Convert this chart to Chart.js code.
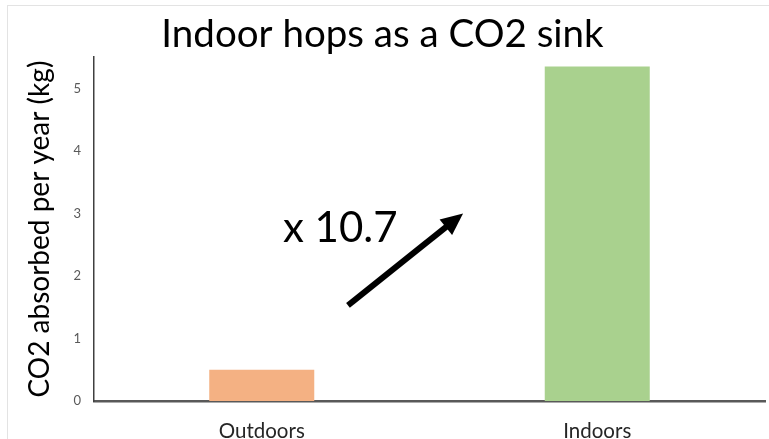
<!DOCTYPE html>
<html>
<head>
<meta charset="utf-8">
<script src="https://cdn.jsdelivr.net/npm/chart.js@4.4.1/dist/chart.umd.min.js"></script>
<style>
  html, body { margin: 0; padding: 0; background: #fff; }
  #wrap { position: relative; width: 769px; height: 439px; }
  #frame { position: absolute; left: 7px; top: 5px; right: -2px; bottom: -2px; border-top: 1px solid #e3e3e3; border-left: 1px solid #e3e3e3; }
  canvas { position: absolute; left: 0; top: 0; }
</style>
</head>
<body>
<div id="wrap">
  <div id="frame"></div>
  <canvas id="chart" width="769" height="439"></canvas>
</div>
<script>
// Datos del gráfico
const categories = ['Outdoors', 'Indoors'];
const co2Values = [0.5, 5.35];
const barColors = ['#F4B183', '#A9D18E'];
const yTicks = [0, 1, 2, 3, 4, 5];

// Anotación: factor y flecha (en unidades de categoría / kg)
const ratioLabel = 'x 10.7';
const ratioText = [0.063, 2.54];
const arrowFrom = [0.257, 1.53];
const arrowTo = [0.6, 3.0];

const font = 'Lato, "Open Sans", sans-serif';

// Plugin para dibujar el texto y la flecha
const annotationPlugin = {
  id: 'ratioArrow',
  afterDatasetsDraw(chart) {
    const ctx = chart.ctx;
    const x = chart.scales.x;
    const y = chart.scales.y;

    ctx.save();
    ctx.fillStyle = '#000';
    ctx.font = '42px ' + font;
    ctx.textBaseline = 'alphabetic';
    ctx.textAlign = 'left';
    ctx.fillText(ratioLabel, x.getPixelForValue(ratioText[0]), y.getPixelForValue(ratioText[1]));

    const x1 = x.getPixelForValue(arrowFrom[0]);
    const y1 = y.getPixelForValue(arrowFrom[1]);
    const x2 = x.getPixelForValue(arrowTo[0]);
    const y2 = y.getPixelForValue(arrowTo[1]);
    const ang = Math.atan2(y2 - y1, x2 - x1);
    const headLen = 22;
    const headHalf = 10;
    const bx = x2 - headLen * Math.cos(ang);
    const by = y2 - headLen * Math.sin(ang);

    ctx.strokeStyle = '#000';
    ctx.lineWidth = 6;
    ctx.beginPath();
    ctx.moveTo(x1, y1);
    ctx.lineTo(bx + 2 * Math.cos(ang), by + 2 * Math.sin(ang));
    ctx.stroke();

    ctx.beginPath();
    ctx.moveTo(x2, y2);
    ctx.lineTo(bx + headHalf * Math.sin(ang), by - headHalf * Math.cos(ang));
    ctx.lineTo(bx - headHalf * Math.sin(ang), by + headHalf * Math.cos(ang));
    ctx.closePath();
    ctx.fill();
    ctx.restore();
  }
};

const ctx = document.getElementById('chart').getContext('2d');
new Chart(ctx, {
  type: 'bar',
  data: {
    labels: categories,
    datasets: [{
      data: co2Values,
      backgroundColor: barColors,
      borderWidth: 0,
      barPercentage: 0.313,
      categoryPercentage: 1
    }]
  },
  options: {
    responsive: false,
    animation: false,
    layout: { padding: { left: 0, right: 4, top: 0, bottom: 0 } },
    plugins: {
      legend: { display: false },
      tooltip: { enabled: false },
      title: {
        display: true,
        text: 'Indoor hops as a CO2 sink',
        color: '#000',
        font: { family: font, size: 38.5, weight: 'normal', lineHeight: 1.2 },
        padding: { top: 11, bottom: 0 }
      }
    },
    scales: {
      x: {
        grid: { display: false, drawTicks: false },
        border: { color: '#595959', width: 2.5 },
        ticks: { color: '#262626', font: { family: font, size: 20.5 }, padding: 18 },
        afterFit(scale) { scale.height = 38; }
      },
      y: {
        min: 0,
        max: 5.5,
        afterBuildTicks(scale) { scale.ticks = yTicks.map(v => ({ value: v })); },
        grid: { display: false, drawTicks: false },
        border: { color: '#404040', width: 1.5 },
        ticks: { color: '#595959', font: { family: font, size: 13 }, padding: 13 },
        title: {
          display: true,
          text: 'CO2 absorbed per year (kg)',
          color: '#000',
          font: { family: font, size: 28, lineHeight: 1.2 },
          padding: { top: 23, bottom: 0 }
        },
        afterFit(scale) { scale.width = 94; }
      }
    }
  },
  plugins: [annotationPlugin]
});
</script>
</body>
</html>
